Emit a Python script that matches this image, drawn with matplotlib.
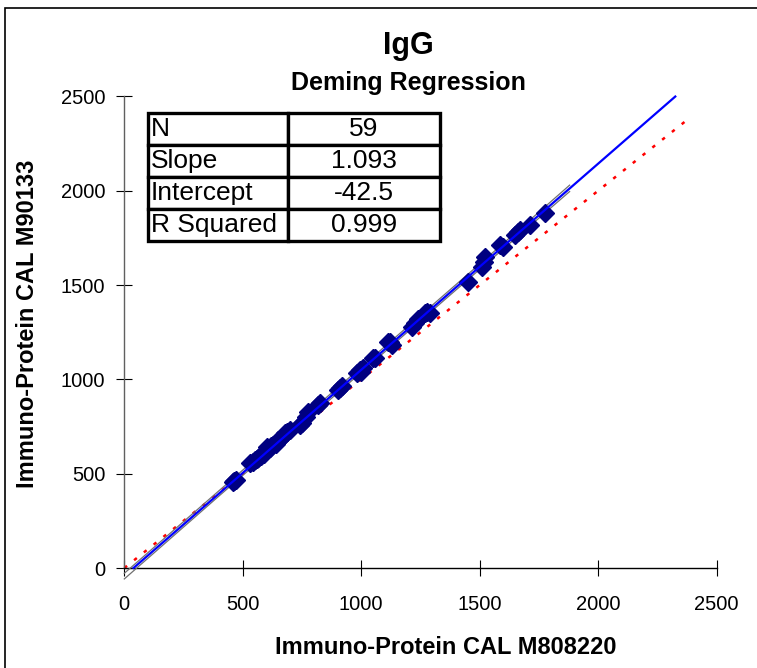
import matplotlib
matplotlib.use("Agg")
import matplotlib.pyplot as plt
from matplotlib.patches import Rectangle

plt.rcParams['font.family'] = ['Liberation Sans', 'DejaVu Sans']

# ---- data ----
x_vals = [459, 463, 470, 531, 543, 552, 560, 565, 578, 586, 590, 598, 603, 615, 620,
          628, 640, 649, 655, 660, 666, 679, 687, 700, 742, 750, 765, 776, 818, 826,
          902, 911, 920, 983, 995, 1000, 1008, 1050, 1059, 1113, 1122, 1130, 1215, 1228,
          1240, 1270, 1278, 1290, 1451, 1510, 1520, 1523, 1586, 1600, 1650, 1660, 1671,
          1713, 1776]
y_vals = [456, 462, 468, 557, 562, 570, 580, 583, 595, 610, 605, 620, 642, 635, 645,
          652, 660, 679, 680, 688, 695, 716, 721, 730, 758, 770, 800, 827, 864, 875,
          944, 954, 965, 1034, 1050, 1040, 1060, 1113, 1113, 1198, 1198, 1180, 1278, 1299,
          1320, 1352, 1357, 1350, 1516, 1596, 1620, 1649, 1713, 1700, 1766, 1780, 1792,
          1819, 1882]

slope = 1.093
intercept = -42.5
identity_end = 2375
fit_x_range = [38.9, 2326]
band_x = [0, 400, 800, 1200, 1600, 1880]
band_upper = [-28, 410, 846, 1284, 1721, 2030]
band_lower = [-58, 382, 818, 1256, 1692, 1996]

table_labels = ["N", "Slope", "Intercept", "R Squared"]
table_values = ["59", "1.093", "-42.5", "0.999"]
ticks = [0, 500, 1000, 1500, 2000, 2500]

# ---- figure ----
W, H = 757, 668
fig = plt.figure(figsize=(W / 100, H / 100), dpi=100)
ax = fig.add_axes([124.3 / W, (H - 568) / H, 592.2 / W, 471.5 / H])
ax.set_xlim(0, 2500)
ax.set_ylim(0, 2500)

# identity line
ax.plot([0, identity_end], [0, identity_end], color='red', lw=1.8,
        linestyle=(0, (1.4, 3.6)), zorder=2, clip_on=False)
# confidence band
ax.plot(band_x, band_upper, color='#707070', lw=0.9, zorder=3, clip_on=False)
ax.plot(band_x, band_lower, color='#707070', lw=0.9, zorder=3, clip_on=False)
# regression line
fx = fit_x_range
fy = [slope * v + intercept for v in fx]
ax.plot(fx, fy, color='#0000FF', lw=1.6, zorder=5, clip_on=False)
# points
ax.plot(x_vals, y_vals, linestyle='none', marker='D', ms=9, color='#000080',
        markeredgecolor='#000080', zorder=4)

for s in ['top', 'right']:
    ax.spines[s].set_visible(False)
ax.spines['left'].set_linewidth(1.0)
ax.spines['bottom'].set_linewidth(1.0)
ax.spines['left'].set_color('#606060')
ax.spines['bottom'].set_color('#000000')

ax.set_xticks(ticks)
ax.set_yticks(ticks)
ax.set_xticklabels([str(t) for t in ticks])
ax.set_yticklabels([str(t) for t in ticks])
ax.tick_params(axis='both', direction='inout', length=11.5, width=0.8,
               labelsize=14.5, color='#000000')
ax.tick_params(axis='x', pad=14)
ax.tick_params(axis='y', pad=8)

# table
tbl = ax.table(cellText=[[a, b] for a, b in zip(table_labels, table_values)],
               colWidths=[0.48, 0.52],
               bbox=[(148 - 124.3) / 592.2, (568 - 241) / 471.5, 292 / 592.2, 128 / 471.5],
               zorder=6)
tbl.auto_set_font_size(False)
for (r, c), cell in tbl.get_celld().items():
    cell.set_linewidth(2.4)
    cell.set_edgecolor('black')
    cell.set_facecolor('white')
    cell.get_text().set_fontsize(19)
    if c == 0:
        cell.get_text().set_ha('left')
        cell.PAD = 0.02
    else:
        cell.get_text().set_ha('center')

# titles
fig.text(408 / W, 1 - 46 / H, "IgG", ha='center', va='center', fontsize=22, fontweight='bold')
fig.text(408 / W, 1 - 83 / H, "Deming Regression", ha='center', va='center',
         fontsize=18, fontweight='bold')
fig.text(446 / W, 1 - 648 / H, "Immuno-Protein CAL M808220", ha='center', va='center',
         fontsize=17, fontweight='bold')
fig.text(28 / W, 1 - 324 / H, "Immuno-Protein CAL M90133", ha='center', va='center',
         fontsize=17, fontweight='bold', rotation=90)

# figure border
fig.patches.append(Rectangle((5 / W, -0.1), 1.2, (H - 8) / H + 0.1, transform=fig.transFigure,
                             fill=False, edgecolor='black', lw=1.2, figure=fig))

fig.savefig("out.png", dpi=100)
